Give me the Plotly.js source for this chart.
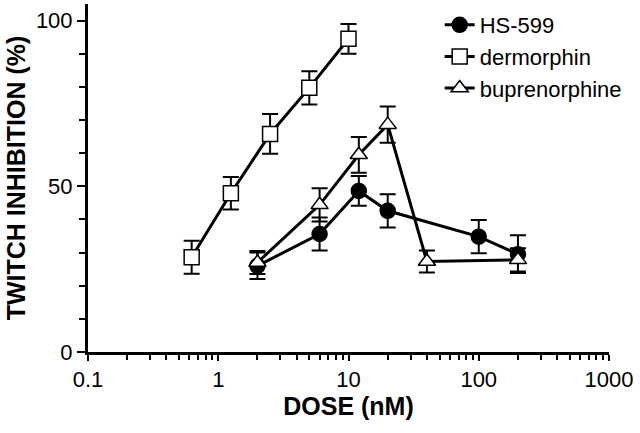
<!DOCTYPE html>
<html>
<head>
<meta charset="utf-8">
<script src="https://cdn.plot.ly/plotly-3.0.1.min.js"></script>
<style>
  body { margin: 0; background: white; }
  #plot { width: 640px; height: 433px; }
</style>
</head>
<body>
<div id="plot"></div>
<script>
// dose (nM) and twitch inhibition (%)
var hsDose = [2, 6, 12, 20, 100, 200]
var hsInhib = [26, 35.6, 48.6, 42.6, 34.8, 29.5]
var hsErr = [4, 5, 4.5, 5, 5, 5.7]

var dermDose = [0.625, 1.25, 2.5, 5, 10]
var dermInhib = [28.6, 47.9, 65.8, 79.7, 94.5]
var dermErr = [5, 4.9, 6, 5, 4.5]

var bupDose = [2, 6, 12, 20, 40, 200]
var bupInhib = [27, 44.4, 59.5, 68.6, 27.3, 27.8]
var bupErr = [3.5, 5, 5.4, 5.5, 3.3, 3.5]

var xTicks = [0.1, 1, 10, 100, 1000]
var xTickText = ["0.1", "1", "10", "100", "1000"]
var yTicks = [0, 50, 100]

function series(name, x, y, err, symbol, fill){
    return {
        name: name,
        x: x,
        y: y,
        type: 'scatter',
        mode: 'lines+markers',
        line: {color: 'black', width: 3},
        marker: {
            symbol: symbol,
            size: 15,
            color: fill,
            line: {color: 'black', width: 1.5}
        },
        error_y: {
            type: 'data',
            array: err,
            visible: true,
            color: 'black',
            thickness: 2,
            width: 8
        }
    }
}

var traces = [
    series('HS-599', hsDose, hsInhib, hsErr, 'circle', 'black'),
    series('dermorphin', dermDose, dermInhib, dermErr, 'square', 'white'),
    series('buprenorphine', bupDose, bupInhib, bupErr, 'triangle-up', 'white')
]

var layout = {
    width: 640,
    height: 433,
    margin: {l: 88, r: 31, t: 4, b: 81},
    paper_bgcolor: 'white',
    plot_bgcolor: 'white',
    font: {family: 'Liberation Sans, Arial, sans-serif', color: 'black', size: 22},
    showlegend: true,
    legend: {
        x: 0.675, y: 1.0,
        xanchor: 'left', yanchor: 'top',
        bgcolor: 'rgba(0,0,0,0)',
        font: {size: 22},
        itemwidth: 30
    },
    xaxis: {
        type: 'log',
        range: [-1, 3],
        tickvals: xTicks,
        ticktext: xTickText,
        ticks: 'outside',
        ticklen: 6,
        tickwidth: 2,
        tickcolor: 'black',
        showline: true,
        linewidth: 3,
        linecolor: 'black',
        showgrid: false,
        zeroline: false,
        minor: {ticks: 'outside', ticklen: 5, tickwidth: 2, tickcolor: 'black', dtick: 'D1', showgrid: false},
        title: {text: '<b>DOSE (nM)</b>', font: {size: 25}, standoff: 6}
    },
    yaxis: {
        range: [0, 105],
        tickvals: yTicks,
        ticks: 'outside',
        ticklen: 8,
        tickwidth: 2,
        tickcolor: 'black',
        showline: true,
        linewidth: 3,
        linecolor: 'black',
        showgrid: false,
        zeroline: false,
        minor: {ticks: 'outside', ticklen: 6, tickwidth: 2, tickcolor: 'black', dtick: 10, showgrid: false},
        title: {text: '<b>TWITCH INHIBITION (%)</b>', font: {size: 25}, standoff: 4}
    }
}

Plotly.newPlot('plot', traces, layout, {displayModeBar: false, staticPlot: true})
</script>
</body>
</html>
